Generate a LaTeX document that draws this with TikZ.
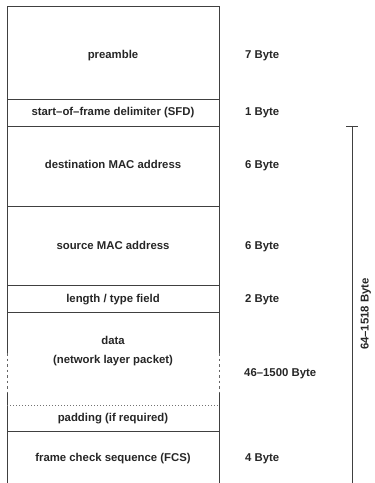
\documentclass[tikz,border=0pt]{standalone}
\usepackage{fontspec}
\setmainfont{Liberation Sans}
\begin{document}
\begin{tikzpicture}[x=1bp,y=-1bp,
  frameline/.style={draw=black!75,line width=0.9bp},
  sepline/.style={draw=black!75,line width=0.9bp},
  gapline/.style={draw=black!60,line width=0.9bp,dash pattern=on 2.5bp off 3bp},
  padline/.style={draw=black!55,line width=0.8bp,dash pattern=on 1bp off 2bp},
  txt/.style={font=\bfseries\fontsize{11.4}{13}\selectfont,text=black!85,inner sep=0pt},
  field/.style={txt,anchor=base},
  size/.style={txt,anchor=base west}]
\useasboundingbox (0,0) rectangle (374,483);

% outer frame, open at the bottom, dashed where the data length varies
\coordinate (tl) at (7,6);
\coordinate (tr) at (219,6);
\draw[frameline] (7,353) -- (tl) -- (tr) -- (219,353);
\draw[gapline] (7,353) -- (7,393);
\draw[gapline] (219,353) -- (219,393);
\draw[frameline] (7,393) -- (7,483);
\draw[frameline] (219,393) -- (219,483);

% field separators
\foreach \y in {99,126,206,285,312,431}
  \draw[sepline] (7,\y) -- (219,\y);
\draw[padline] (7,405) -- (219,405);

% field names (placed by baseline)
\node[field] (pre) at (113,59) {preamble};
\node[field] (sfd) at (113,115.5) {start–of–frame delimiter (SFD)};
\node[field] (dst) at (113,168.5) {destination MAC address};
\node[field] (src) at (113,249) {source MAC address};
\node[field] (len) at (113,302) {length / type field};
\node[field] (dat) at (113,344) {data};
\node[field] (net) at (113,363) {(network layer packet)};
\node[field] (pad) at (113,421.5) {padding (if required)};
\node[field] (fcs) at (113,461) {frame check sequence (FCS)};

% field sizes
\node[size] (spre) at (245,58.5) {7 Byte};
\node[size] (ssfd) at (245,115.5) {1 Byte};
\node[size] (sdst) at (245,168.5) {6 Byte};
\node[size] (ssrc) at (245,249) {6 Byte};
\node[size] (slen) at (245,302) {2 Byte};
\node[size] (sdat) at (244,376) {46–1500 Byte};
\node[size] (sfcs) at (245,461) {4 Byte};

% total frame length
\coordinate (btop) at (352,126);
\coordinate (bbot) at (352,483);
\draw[frameline] (btop) -- (bbot);
\draw[frameline] (346,126) -- (358,126);
\node[txt,rotate=90,anchor=base] (tot) at (368.5,314) {64–1518 Byte};
\end{tikzpicture}
\end{document}
